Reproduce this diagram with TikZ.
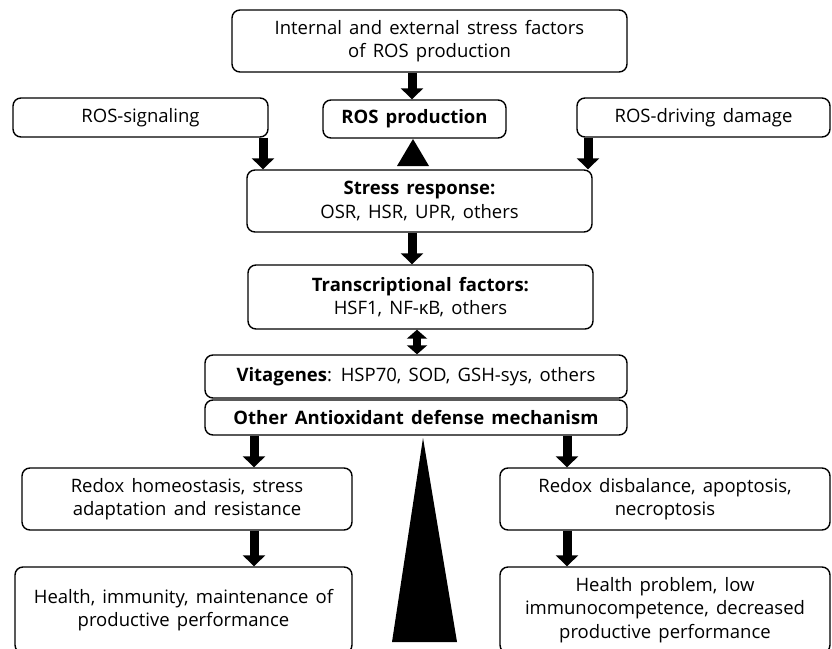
\documentclass[tikz,border=0pt]{standalone}
\usepackage{fontspec}
\setmainfont{Open Sans}[WordSpace=1.5]
\usetikzlibrary{arrows.meta}
\begin{document}
\begin{tikzpicture}[x=1pt,y=-1pt,
  box/.style={draw, fill=white, line width=1.4pt, rounded corners=8pt, align=center, inner sep=0pt,
    font=\fontsize{18.5}{23.5}\selectfont},
  fat/.style={line width=9pt, -{Triangle[width=22pt,length=11pt]}},
  dbl/.style={line width=8pt, {Triangle[width=20pt,length=9pt]}-{Triangle[width=20pt,length=9pt]}},
  wedge/.style={fill=black}
]
\useasboundingbox (0,0) rectangle (832,648);
% big triangle
\fill[wedge] (423,438) -- (457,642) -- (392,642) -- cycle;
% small up triangle
\fill[wedge] (413,139) -- (429,166) -- (397,166) -- cycle;
% boxes
\node[box, minimum width=395pt, minimum height=62pt] (top) at (429.5,41) {Internal and external stress factors\\of ROS production};
\node[box, minimum width=183pt, minimum height=38pt] (ros) at (414.5,119) {\textbf{ROS production}};
\node[box, minimum width=255pt, minimum height=39pt] (sig) at (140.5,117.5) {ROS-signaling};
\node[box, minimum width=253pt, minimum height=39pt] (dmg) at (703.5,117.5) {ROS-driving damage};
\node[box, minimum width=345pt, minimum height=62pt] (stress) at (419.5,201) {\textbf{Stress response:}\\OSR, HSR, UPR, others};
\node[box, minimum width=345pt, minimum height=64pt] (tf) at (420.5,297) {\textbf{Transcriptional factors:}\\HSF1, NF-κB, others};
\node[box, minimum width=422pt, minimum height=43pt] (vit) at (416,376.5) {\textbf{Vitagenes}: HSP70, SOD, GSH-sys, others};
\node[box, minimum width=422pt, minimum height=35pt] (oth) at (416,417.5) {\textbf{Other Antioxidant defense mechanism}};
\node[box, minimum width=330pt, minimum height=62pt] (lr) at (187,499) {Redox homeostasis, stress\\adaptation and resistance};
\node[box, minimum width=330pt, minimum height=62pt] (rr) at (665,499) {Redox disbalance, apoptosis,\\necroptosis};
\node[box, minimum width=337pt, minimum height=86pt] (lb) at (183.5,610) {Health, immunity, maintenance of\\productive performance};
\node[box, minimum width=330pt, minimum height=86pt] (rb) at (665,610) {Health problem, low\\immunocompetence, decreased\\productive performance};
% x positions of connectors
\coordinate (xa) at (412,0);
\coordinate (xs) at (263,0);
\coordinate (xd) at (588,0);
\coordinate (xt) at (417,0);
\coordinate (xl) at (254,0);
\coordinate (xr) at (567,0);
% connectors
\draw[fat] (top.south -| xa) -- (ros.north -| xa);
\draw[fat] (sig.south -| xs) -- (stress.north -| xs);
\draw[fat] (dmg.south -| xd) -- (stress.north -| xd);
\draw[fat] (stress.south -| xa) -- (tf.north -| xa);
\draw[dbl] (tf.south -| xt) -- (vit.north -| xt);
\draw[fat] (oth.south -| xl) -- (lr.north -| xl);
\draw[fat] (oth.south -| xr) -- (rr.north -| xr);
\draw[fat] (lr.south -| xl) -- (lb.north -| xl);
\draw[fat] (rr.south -| xr) -- (rb.north -| xr);
\end{tikzpicture}
\end{document}
